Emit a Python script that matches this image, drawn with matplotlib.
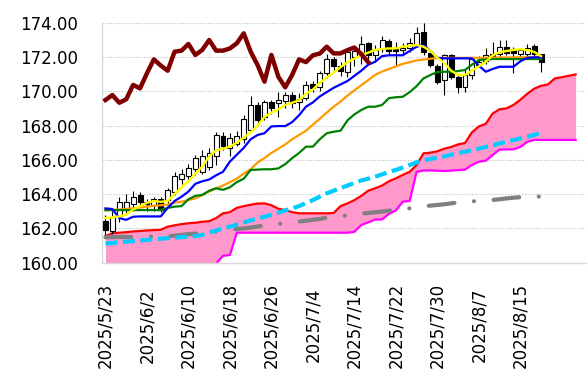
import matplotlib
matplotlib.use("Agg")
import matplotlib.pyplot as plt
from matplotlib.ticker import FormatStrFormatter
import numpy as np

# tick labels (every 6th business day)
date_labels = ['2025/5/23', '2025/6/2', '2025/6/10', '2025/6/18', '2025/6/26', '2025/7/4',
               '2025/7/14', '2025/7/22', '2025/7/30', '2025/8/7', '2025/8/15']
label_step = 6
n_slots = 70

# daily candles
opens = [162.45, 161.85, 162.7, 163.1, 163.4, 163.95, 163.55, 163.35, 163.7, 163.65,
         164.1, 164.9, 165.05, 165.45, 165.3, 165.6, 166.2, 167.4, 166.7, 166.95,
         167.2, 167.75, 169.2, 168.5, 169.4, 169.3, 169.45, 169.8, 169.35, 169.6,
         170.4, 170.25, 171.05, 171.9, 171.5, 171.15, 172.0, 172.25, 172.8, 172.1,
         172.45, 172.95, 172.45, 172.4, 172.5, 172.7, 173.45, 172.25, 171.5, 170.65,
         172.1, 170.85, 170.25, 170.95, 171.55, 171.75, 172.05, 172.2, 172.6, 172.4,
         172.2, 172.2, 172.65, 172.15]
highs = [162.8, 163.0, 163.85, 164.0, 164.2, 164.15, 163.7, 163.85, 163.85, 164.35,
         165.3, 165.45, 165.75, 166.3, 166.6, 166.7, 167.6, 167.65, 167.55, 167.7,
         168.6, 169.75, 169.35, 169.5, 169.5, 169.95, 169.95, 169.95, 169.9, 170.6,
         170.6, 171.2, 172.2, 172.0, 171.7, 172.5, 172.55, 173.25, 172.9, 172.7,
         173.2, 173.05, 172.9, 172.8, 173.1, 173.75, 173.97, 172.35, 171.6, 172.2,
         172.2, 171.0, 171.3, 172.0, 172.05, 172.5, 172.85, 173.0, 173.0, 172.6,
         172.55, 172.75, 172.75, 172.2]
lows = [161.6, 161.7, 162.4, 162.9, 163.0, 163.3, 163.0, 163.0, 162.95, 163.5,
        163.95, 164.6, 164.7, 165.1, 165.2, 165.4, 165.7, 166.6, 166.2, 166.8,
        167.0, 167.6, 168.1, 168.3, 168.7, 168.5, 169.05, 169.0, 168.9, 169.5,
        169.95, 170.0, 170.8, 171.2, 170.9, 170.85, 171.5, 171.6, 171.7, 171.8,
        172.3, 172.2, 171.45, 172.2, 172.3, 172.6, 172.1, 171.4, 170.45, 169.8,
        170.7, 169.9, 169.95, 170.7, 171.4, 171.6, 171.9, 171.9, 172.1, 171.05,
        171.9, 172.0, 171.9, 171.15]
closes = [161.9, 162.65, 163.55, 163.55, 163.85, 163.55, 163.4, 163.7, 163.1, 164.25,
          165.05, 165.2, 165.5, 166.1, 166.2, 166.4, 167.45, 166.8, 167.3, 167.4,
          168.4, 169.2, 168.3, 169.4, 169.0, 169.49, 169.78, 169.33, 169.53, 170.37,
          170.17, 171.05, 171.86, 171.5, 171.2, 172.31, 172.37, 172.76, 172.12, 172.41,
          172.99, 172.37, 172.37, 172.5, 172.8, 173.38, 172.31, 171.53, 170.56, 172.12,
          170.85, 170.23, 170.95, 171.86, 171.7, 172.1, 172.2, 172.6, 172.21, 172.21,
          172.4, 172.55, 172.17, 171.7]
chikou_shift = 25

ma5 = [162.6, 162.65, 162.7, 162.8, 163.1, 163.3, 163.5, 163.6, 163.55, 163.6,
       164.0, 164.4, 164.75, 165.2, 165.6, 166.2, 166.55, 166.65, 166.77, 167.0,
       167.3, 167.6, 168.0, 168.5, 168.75, 168.95, 169.2, 169.33, 169.48, 169.85,
       170.1, 170.5, 170.8, 171.1, 171.4, 171.7, 171.9, 172.1, 172.25, 172.41,
       172.47, 172.5, 172.5, 172.6, 172.65, 172.7, 172.6, 172.35, 171.95, 171.65,
       171.2, 170.95, 170.95, 171.2, 171.45, 171.72, 172.1, 172.28, 172.35, 172.41,
       172.45, 172.4, 172.3, 172.05]
tenkan = [163.17, 163.13, 162.6, 162.5, 162.68, 162.7, 162.7, 162.7, 162.7, 163.2,
          163.6, 163.85, 164.15, 164.6, 164.75, 164.85, 165.1, 165.3, 165.9, 166.3,
          166.7, 167.2, 167.45, 167.55, 167.95, 167.97, 167.97, 168.2, 168.6, 169.1,
          169.35, 169.7, 169.95, 170.2, 170.4, 170.6, 170.9, 171.2, 171.55, 171.72,
          172.05, 172.1, 172.1, 172.1, 172.35, 172.6, 172.7, 172.35, 171.95, 171.92,
          171.92, 171.92, 171.92, 171.92, 171.5, 171.14, 171.3, 171.43, 171.43, 171.43,
          171.75, 171.95, 171.98, 171.98]
kijun = [163.07, 163.07, 163.07, 163.07, 163.07, 163.07, 163.07, 163.07, 163.07, 163.2,
         163.27, 163.3, 163.7, 163.9, 163.95, 164.2, 164.34, 164.25, 164.4, 164.7,
         164.9, 165.41, 165.43, 165.45, 165.45, 165.5, 165.75, 166.1, 166.4, 166.77,
         166.77, 167.2, 167.55, 167.64, 167.7, 168.3, 168.65, 168.91, 169.1, 169.1,
         169.2, 169.6, 169.65, 169.68, 169.95, 170.3, 170.75, 170.95, 171.12, 171.14,
         171.14, 171.18, 171.24, 171.55, 171.82, 171.86, 171.88, 171.88, 171.88, 171.88,
         171.88, 171.88, 171.88, 171.88]
ma25 = [163.05, 163.08, 163.11, 163.14, 163.17, 163.22, 163.27, 163.32, 163.35, 163.38,
        163.5, 163.56, 163.65, 163.75, 163.95, 164.15, 164.34, 164.5, 164.7, 164.9,
        165.2, 165.45, 165.85, 166.1, 166.4, 166.65, 166.9, 167.2, 167.45, 167.7,
        168.05, 168.4, 168.75, 169.1, 169.4, 169.75, 170.05, 170.35, 170.65, 170.95,
        171.15, 171.3, 171.45, 171.6, 171.7, 171.8, 171.85, 171.9, 171.93, 171.95,
        171.95, 171.95, 171.95, 171.95, 171.95, 171.95, 171.96, 171.97, 171.97, 171.98,
        171.98, 171.99, 172.0, 172.0]
ma75 = [161.13, 161.15, 161.2, 161.23, 161.26, 161.3, 161.33, 161.37, 161.4, 161.43,
        161.46, 161.49, 161.52, 161.55, 161.62, 161.75, 161.88, 162.0, 162.1, 162.22,
        162.35, 162.47, 162.58, 162.68, 162.8, 162.92, 163.05, 163.17, 163.3, 163.48,
        163.65, 163.85, 164.05, 164.2, 164.35, 164.5, 164.65, 164.8, 164.9, 165.02,
        165.15, 165.3, 165.41, 165.55, 165.7, 165.85, 165.98, 166.05, 166.12, 166.2,
        166.3, 166.4, 166.47, 166.56, 166.65, 166.75, 166.85, 166.96, 167.05, 167.15,
        167.25, 167.35, 167.45, 167.58]
ma200 = [161.48, 161.49, 161.5, 161.5, 161.5, 161.51, 161.52, 161.53, 161.54, 161.55,
         161.58, 161.62, 161.66, 161.7, 161.73, 161.77, 161.81, 161.86, 161.92, 161.96,
         162.0, 162.05, 162.11, 162.17, 162.22, 162.27, 162.31, 162.36, 162.4, 162.45,
         162.5, 162.55, 162.63, 162.68, 162.72, 162.76, 162.8, 162.86, 162.9, 162.94,
         162.98, 163.04, 163.12, 163.15, 163.17, 163.22, 163.28, 163.33, 163.37, 163.41,
         163.46, 163.52, 163.56, 163.58, 163.6, 163.62, 163.66, 163.7, 163.75, 163.79,
         163.82, 163.84, 163.85, 163.86]

# cloud
span_a = [161.55, 161.72, 161.75, 161.78, 161.82, 161.85, 161.88, 161.9, 161.92, 162.1,
          162.18, 162.25, 162.3, 162.33, 162.39, 162.42, 162.6, 162.88, 162.95, 163.2,
          163.3, 163.38, 163.45, 163.46, 163.35, 163.15, 163.07, 162.95, 162.88, 162.88,
          162.88, 162.88, 162.88, 162.9, 163.3, 163.46, 163.65, 163.9, 164.2, 164.34,
          164.5, 164.75, 164.92, 165.12, 165.3, 165.7, 166.38, 166.42, 166.5, 166.65,
          166.75, 166.9, 166.98, 167.6, 167.95, 168.1, 168.7, 168.95, 169.0, 169.2,
          169.5, 169.85, 170.15, 170.32, 170.4, 170.75, 170.82, 170.9, 170.98]
span_b = [159.3, 159.3, 159.3, 159.3, 159.3, 159.3, 159.3, 159.3, 159.3, 159.3,
          159.3, 159.3, 159.3, 159.3, 159.3, 159.3, 159.95, 160.4, 160.45, 161.75,
          161.75, 161.75, 161.75, 161.75, 161.75, 161.75, 161.75, 161.75, 161.75, 161.75,
          161.75, 161.75, 161.75, 161.75, 161.75, 161.75, 161.8, 162.2, 162.35, 162.52,
          162.52, 162.85, 163.05, 163.56, 163.6, 165.3, 165.38, 165.38, 165.37, 165.35,
          165.37, 165.4, 165.43, 165.7, 165.89, 165.95, 166.28, 166.6, 166.61, 166.61,
          166.75, 167.05, 167.16, 167.16, 167.16, 167.16, 167.16, 167.16, 167.16]

plt.rcParams['font.family'] = 'DejaVu Sans'
plt.rcParams['font.size'] = 12

fig = plt.figure(figsize=(5.88, 3.77), dpi=100)
ax = fig.add_axes([102 / 588, 1 - 262.7 / 377, 484 / 588, 240 / 377])

x = np.arange(len(closes))
xc = np.arange(len(span_a))
o = np.array(opens)
c = np.array(closes)

# cloud
ax.fill_between(xc, span_b, span_a, color='#FF99CC', linewidth=0, zorder=1)
ax.plot(xc, span_a, color='#FF0000', lw=1.6, zorder=2)
ax.plot(xc, span_b, color='#FF00FF', lw=1.6, zorder=2)

# candles
up = c >= o
ax.vlines(x, lows, highs, color='black', lw=0.8, zorder=3)
ax.bar(x[up], (c - o)[up], bottom=o[up], width=0.72, color='white',
       edgecolor='black', linewidth=0.8, zorder=3)
ax.bar(x[~up], (o - c)[~up], bottom=c[~up], width=0.72, color='black',
       edgecolor='black', linewidth=0.8, zorder=3)

# moving averages
ax.plot(x, ma200, color='#808080', lw=3, dashes=(6.2, 4.7, 0.01, 4.7),
        dash_capstyle='round', zorder=4)
ax.plot(x, ma75, color='#00CCFF', lw=3, dashes=(2.9, 1.3), dash_capstyle='butt', zorder=4)
ax.plot(x, ma25, color='#FF9900', lw=1.6, zorder=5)
ax.plot(x, kijun, color='#008000', lw=1.6, zorder=5)
ax.plot(x, tenkan, color='#0000FF', lw=1.6, zorder=6)
ax.plot(x, ma5, color='#FFFF00', lw=1.7, zorder=7)

# lagging span
chikou = closes[chikou_shift:]
ax.plot(np.arange(len(chikou)), chikou, color='#800000', lw=3.2, zorder=8)

ax.set_xlim(-0.5, n_slots - 0.5)
ax.set_ylim(160, 174)
ax.set_yticks(np.arange(160, 175, 2))
ax.yaxis.set_major_formatter(FormatStrFormatter('%.2f'))
ax.set_xticks(np.arange(0, label_step * len(date_labels), label_step))
ax.set_xticklabels(date_labels, rotation=90, va='center', ha='center')

ax.grid(axis='y', color='#BFBFBF', linestyle=(0, (1, 1.5)), linewidth=0.8)
ax.set_axisbelow(True)
ax.tick_params(axis='y', length=0, pad=17)
ax.tick_params(axis='x', length=0, pad=45)
for side in ['top', 'right']:
    ax.spines[side].set_visible(False)
for side in ['left', 'bottom']:
    ax.spines[side].set_color('#D9D9D9')
    ax.spines[side].set_linewidth(1)

fig.savefig('out.png', dpi=100)
